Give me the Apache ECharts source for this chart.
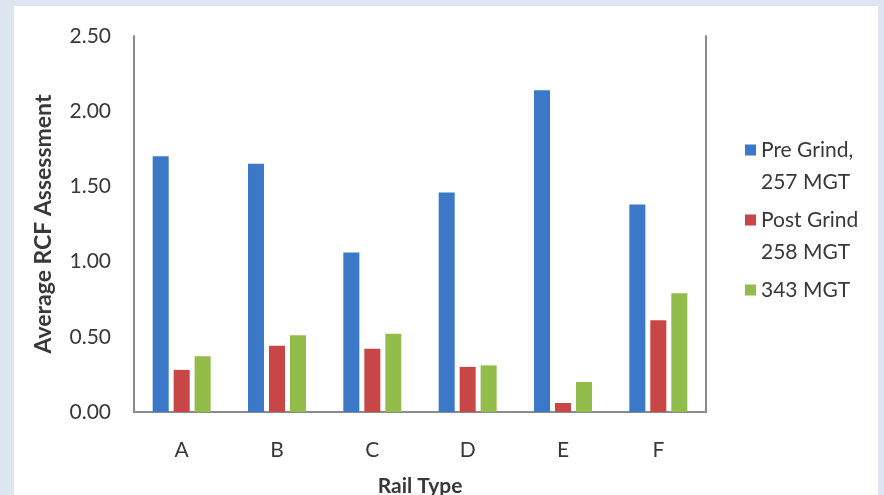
<!DOCTYPE html>
<html>
<head>
<meta charset="utf-8">
<script src="https://cdn.jsdelivr.net/npm/echarts@6/dist/echarts.min.js"></script>
<style>
  html, body { margin: 0; padding: 0; }
  body { width: 884px; height: 495px; background: #dde6f0; position: relative; overflow: hidden; }
  #chart { position: absolute; left: 14px; top: 6px; width: 864px; height: 489px; background: #ffffff; }
</style>
</head>
<body>
<div id="chart"></div>
<script>
// Rail types on the horizontal axis
const railTypes = ['A', 'B', 'C', 'D', 'E', 'F'];

// Average RCF assessment per rail type
const preGrind257 = [1.70, 1.65, 1.06, 1.46, 2.14, 1.38];
const postGrind258 = [0.28, 0.44, 0.42, 0.30, 0.06, 0.61];
const mgt343 = [0.37, 0.51, 0.52, 0.31, 0.20, 0.79];

// Series names as shown in the legend
const seriesNames = ['Pre Grind,\n257 MGT', 'Post Grind\n258 MGT', '343 MGT\n'];

// Value-axis tick values
const yTicks = [0, 0.5, 1.0, 1.5, 2.0, 2.5];

const colors = ['#3b78c8', '#c84646', '#92bd4a'];
const textColor = '#383838';
const frameColor = '#8a8a8a';
const fontFamily = 'Lato, "Open Sans", sans-serif';

// Legend swatch: a square placed on the first text line of a two-line entry
const swatch = 'path://M0,0h0.01v0.01zM0,10.5h11v11h-11zM0,64h0.01v-0.01z';

const chart = echarts.init(document.getElementById('chart'), null, { renderer: 'canvas' });

const barCommon = {
  type: 'bar',
  barWidth: '16.8%',
  barGap: '31%',
  xAxisIndex: 0,
  yAxisIndex: 0
};

chart.setOption({
  animation: false,
  textStyle: { fontFamily: fontFamily },
  grid: { left: 120, right: 172, top: 30, bottom: 83, containLabel: false, outerBoundsMode: 'none' },
  legend: {
    orient: 'vertical',
    left: 726,
    top: 123,
    itemWidth: 11,
    itemHeight: 64,
    itemGap: 6,
    icon: swatch,
    textStyle: { fontSize: 21, color: textColor, lineHeight: 32, fontFamily: fontFamily },
    data: seriesNames
  },
  xAxis: [
    {
      type: 'category',
      data: railTypes,
      position: 'bottom',
      axisLine: { show: false },
      axisTick: { show: false },
      axisLabel: { fontSize: 21, color: textColor, margin: 28 },
      name: 'Rail Type',
      nameLocation: 'middle',
      nameGap: 64,
      nameTextStyle: { fontSize: 21, fontWeight: 'bold', color: textColor }
    },
    {
      type: 'category',
      data: railTypes,
      position: 'top',
      axisLine: { show: true, lineStyle: { color: frameColor, width: 2 } },
      axisTick: { show: false },
      axisLabel: { show: false }
    }
  ],
  yAxis: [
    {
      type: 'value',
      min: yTicks[0],
      max: yTicks[yTicks.length - 1],
      interval: yTicks[1] - yTicks[0],
      position: 'left',
      axisLine: { show: true, lineStyle: { color: frameColor, width: 2 } },
      axisTick: { show: false },
      splitLine: { show: false },
      axisLabel: {
        fontSize: 21,
        color: textColor,
        margin: 23,
        formatter: v => v.toFixed(2)
      },
      name: 'Average RCF Assessment',
      nameLocation: 'middle',
      nameRotate: 90,
      nameGap: 79,
      nameTextStyle: { fontSize: 23, fontWeight: 'bold', color: textColor }
    },
    {
      type: 'value',
      min: yTicks[0],
      max: yTicks[yTicks.length - 1],
      interval: yTicks[1] - yTicks[0],
      position: 'right',
      axisLine: { show: true, lineStyle: { color: frameColor, width: 2 } },
      axisTick: { show: false },
      splitLine: { show: false },
      axisLabel: { show: false }
    }
  ],
  series: [
    Object.assign({}, barCommon, { name: seriesNames[0], data: preGrind257, itemStyle: { color: colors[0] } }),
    Object.assign({}, barCommon, { name: seriesNames[1], data: postGrind258, itemStyle: { color: colors[1] } }),
    Object.assign({}, barCommon, { name: seriesNames[2], data: mgt343, itemStyle: { color: colors[2] } })
  ]
});
</script>
</body>
</html>
